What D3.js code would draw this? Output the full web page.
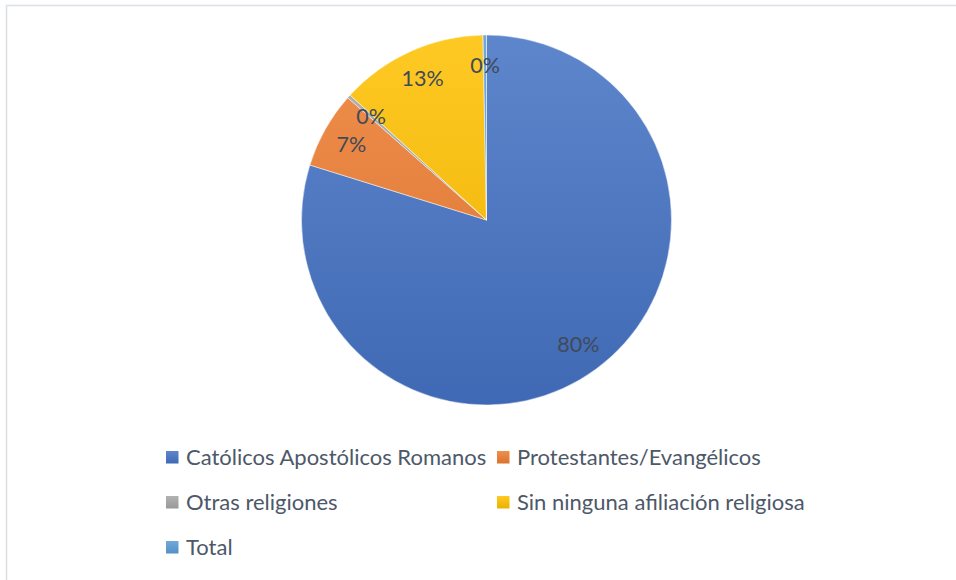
<!DOCTYPE html>
<html><head><meta charset="utf-8">
<script src="https://cdn.jsdelivr.net/npm/d3@7"></script>
<style>body{margin:0;background:#fff}svg{display:block}</style>
</head><body>
<svg id="c" width="956" height="580"></svg>
<script>
const categories = ["Católicos Apostólicos Romanos","Protestantes/Evangélicos","Otras religiones","Sin ninguna afiliación religiosa","Total"];
const values = [79.8, 6.7, 0.3, 12.9, 0.3];
const labels = ["80%","7%","0%","13%","0%"];
const colors = ["#4472C4","#ED7D31","#A5A5A5","#FFC000","#5B9BD5"];

const svg = d3.select("#c");
const W = 956, H = 580;
svg.append("rect").attr("x",6.5).attr("y",5.5).attr("width",W+10).attr("height",H+10)
  .attr("fill","#fff").attr("stroke","#dde1e6").attr("stroke-width",1.6);

const cx = 486.5, cy = 220, R = 185;
const top_ = c => d3.interpolateRgb(c, "#ffffff")(0.14);
const bot_ = c => d3.interpolateRgb(c, "#000000")(0.08);
const defs = svg.append("defs");
colors.forEach((c,i)=>{
  const g = defs.append("linearGradient").attr("id","g"+i)
    .attr("gradientUnits","userSpaceOnUse").attr("x1",0).attr("y1",-R).attr("x2",0).attr("y2",R);
  g.append("stop").attr("offset","0%").attr("stop-color", top_(c));
  g.append("stop").attr("offset","100%").attr("stop-color", bot_(c));
  const lg = defs.append("linearGradient").attr("id","lg"+i).attr("x1",0).attr("y1",0).attr("x2",0).attr("y2",1);
  lg.append("stop").attr("offset","0%").attr("stop-color", top_(c));
  lg.append("stop").attr("offset","100%").attr("stop-color", bot_(c));
});

const pie = d3.pie().sort(null).value(d=>d)(values);
const arc = d3.arc().innerRadius(0).outerRadius(R);
const g = svg.append("g").attr("transform",`translate(${cx},${cy})`);
g.selectAll("path.s").data(pie).join("path").attr("class","s")
  .attr("d",arc).attr("fill",(d,i)=>`url(#g${i})`)
  .attr("stroke","#fff").attr("stroke-width",0.6).attr("stroke-opacity",0.8);

const labelArc = d3.arc().innerRadius(155).outerRadius(155);
g.selectAll("text.l").data(pie).join("text").attr("class","l")
  .attr("transform",d=>`translate(${labelArc.centroid(d)})`)
  .attr("text-anchor","middle").attr("dy","0.35em")
  .attr("font-family","Lato, 'Open Sans', sans-serif").attr("font-size",21.5)
  .attr("fill","#404a58").text((d,i)=>labels[i]);

// legend
const colX = [166, 497], rowY = [457, 502, 547];
const lg = svg.append("g");
categories.forEach((c,i)=>{
  const x = colX[i%2], y = rowY[Math.floor(i/2)];
  lg.append("rect").attr("x",x).attr("y",y-6).attr("width",12.5).attr("height",12.5).attr("fill",`url(#lg${i})`);
  lg.append("text").attr("x",x+20).attr("y",y).attr("dy","0.35em")
    .attr("font-family","Lato, 'Open Sans', sans-serif").attr("font-size",22)
    .attr("fill","#4d5868").text(c);
});
</script>
</body></html>
